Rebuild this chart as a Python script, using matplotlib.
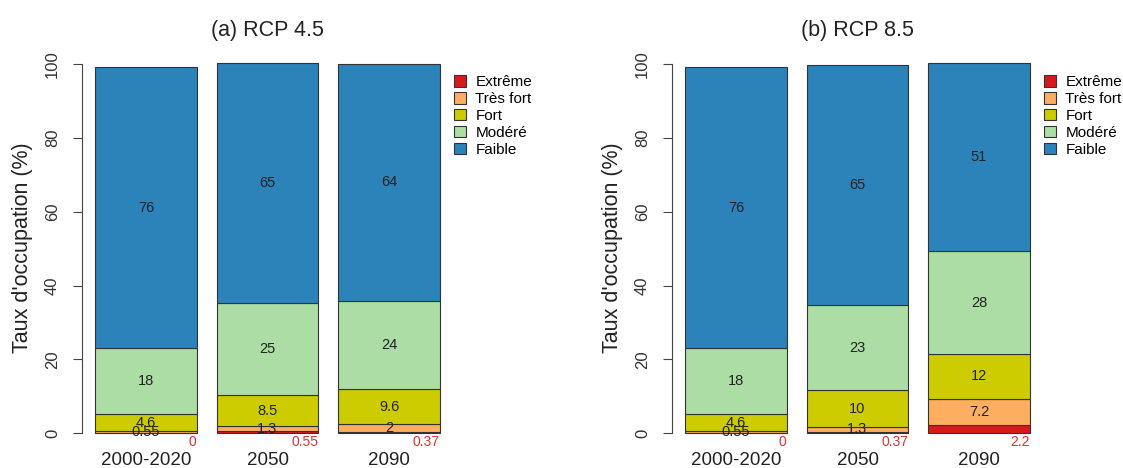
import matplotlib
matplotlib.use('Agg')
import matplotlib.pyplot as plt
from matplotlib.patches import Patch
import numpy as np

plt.rcParams['font.family'] = ['Liberation Sans', 'DejaVu Sans']

periods = ['2000-2020', '2050', '2090']
classes = ['Extrême', 'Très fort', 'Fort', 'Modéré', 'Faible']
colors = ['#d7191c', '#fdae61', '#cccc00', '#abdda4', '#2b83ba']
titles = ['(a) RCP 4.5', '(b) RCP 8.5']

# rows: classes (Extrême -> Faible), cols: periods
rcp45 = [
    [0, 0.55, 0.37],
    [0.55, 1.3, 2],
    [4.6, 8.5, 9.6],
    [18, 25, 24],
    [76, 65, 64],
]
rcp85 = [
    [0, 0.37, 2.2],
    [0.55, 1.3, 7.2],
    [4.6, 10, 12],
    [18, 23, 28],
    [76, 65, 51],
]

W, H = 1123, 468
fig = plt.figure(figsize=(W / 100, H / 100), dpi=100)


def draw_panel(x0, data, title):
    # plot region: x0..x0+372 px, y 48..448 px (like R's barplot region)
    ax = fig.add_axes([x0 / W, (H - 448) / H, 372 / W, 400 / H])
    data = np.array(data, dtype=float)
    xc = 0.7 + 1.2 * np.arange(len(periods))
    bottom = np.zeros(len(periods))
    for i, cls in enumerate(classes):
        ax.bar(xc, data[i], width=1.0, bottom=bottom, color=colors[i],
               edgecolor='#333333', linewidth=0.8)
        for j in range(len(periods)):
            v = data[i, j]
            if i == 0:
                ax.text(xc[j] + 0.5, -0.4, f'{v:g}', ha='right', va='top',
                        fontsize=10, color='#e03030')
            else:
                ax.text(xc[j], bottom[j] + v / 2, f'{v:g}', ha='center',
                        va='center', fontsize=10.5, color='#222222')
        bottom += data[i]

    ax.set_xlim(0.064, 3.736)
    ax.set_ylim(-4.0, 104.4)
    for s in ['top', 'right', 'bottom']:
        ax.spines[s].set_visible(False)
    ax.spines['left'].set_bounds(0, 100)
    ax.spines['left'].set_color('#444444')
    ax.set_yticks([0, 20, 40, 60, 80, 100])
    ax.set_yticklabels(['0', '20', '40', '60', '80', '100'], rotation=90,
                       va='center', fontsize=12, color='#333333')
    ax.tick_params(axis='y', length=6.5, color='#444444', pad=9)
    ax.set_xticks(xc)
    ax.set_xticklabels(periods, fontsize=13.5, color='#222222')
    ax.tick_params(axis='x', length=0, pad=3)
    ax.set_ylabel("Taux d'occupation (%)", fontsize=15.5, color='#222222', labelpad=8.5)
    ax.text(xc[1], 1.045, title, transform=ax.get_xaxis_transform(),
            ha='center', va='center', fontsize=15.5, color='#222222')

    handles = [Patch(facecolor=c, edgecolor='#333333', linewidth=0.8, label=l)
               for c, l in zip(colors, classes)]
    ax.legend(handles=handles, loc='upper left', bbox_to_anchor=(0.985, 0.948),
              frameon=False, fontsize=11, handlelength=0.8, handleheight=0.8,
              handletextpad=0.6, labelspacing=0.18, borderaxespad=0.0)
    return ax


draw_panel(81.5, rcp45, titles[0])
draw_panel(671.5, rcp85, titles[1])

fig.savefig('out.png', dpi=100)
